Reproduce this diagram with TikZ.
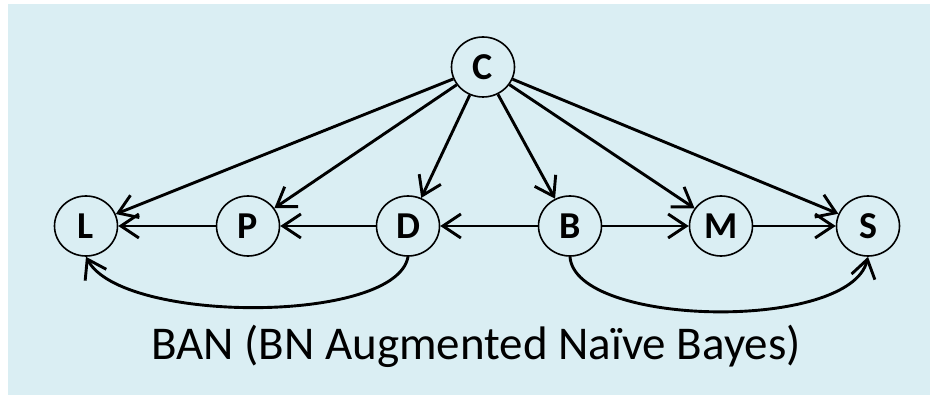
\documentclass[tikz,border=0pt]{standalone}
\usepackage{fontspec}
\setmainfont{Carlito}
\usetikzlibrary{arrows.meta,shapes.geometric}
\definecolor{panel}{HTML}{DAEEF3}
\tikzset{
  var/.style={ellipse, draw=black, line width=1.6pt, minimum width=63pt, minimum height=60pt,
    inner sep=0pt, font=\fontsize{38}{38}\selectfont\bfseries},
  dep/.style={line width=2.9pt, -{Straight Barb[length=18pt,width=24pt,line width=2.9pt]}},
}
\begin{document}
\begin{tikzpicture}[x=1pt,y=-1pt]
  \useasboundingbox (0,0) rectangle (930,395);
  \fill[panel] (8,4) rectangle (930,395);
  % class node and attribute nodes
  \node[var] (C) at (483,67) {C};
  \node[var] (L) at (86,226) {L};
  \node[var] (P) at (248,226) {P};
  \node[var] (D) at (408,226) {D};
  \node[var] (B) at (570,226) {B};
  \node[var] (M) at (721,226) {M};
  \node[var] (S) at (868,226) {S};
  % class to every attribute
  \foreach \t in {L,P,D,B,M,S} \draw[dep] (C) -- (\t);
  % links between attributes
  \draw[dep] (P) -- (L);
  \draw[dep] (D) -- (P);
  \draw[dep] (B) -- (D);
  \draw[dep] (B) -- (M);
  \draw[dep] (M) -- (S);
  \draw[dep] (D.south) .. controls (396,324) and (122,324) .. (L.south);
  \draw[dep] (B.south) .. controls (575,327) and (850,332) .. (S.south);
  % caption
  \node[anchor=base, font=\fontsize{47}{47}\selectfont] (cap) at (476,360) {BAN (BN Augmented Naïve Bayes)};
\end{tikzpicture}
\end{document}
